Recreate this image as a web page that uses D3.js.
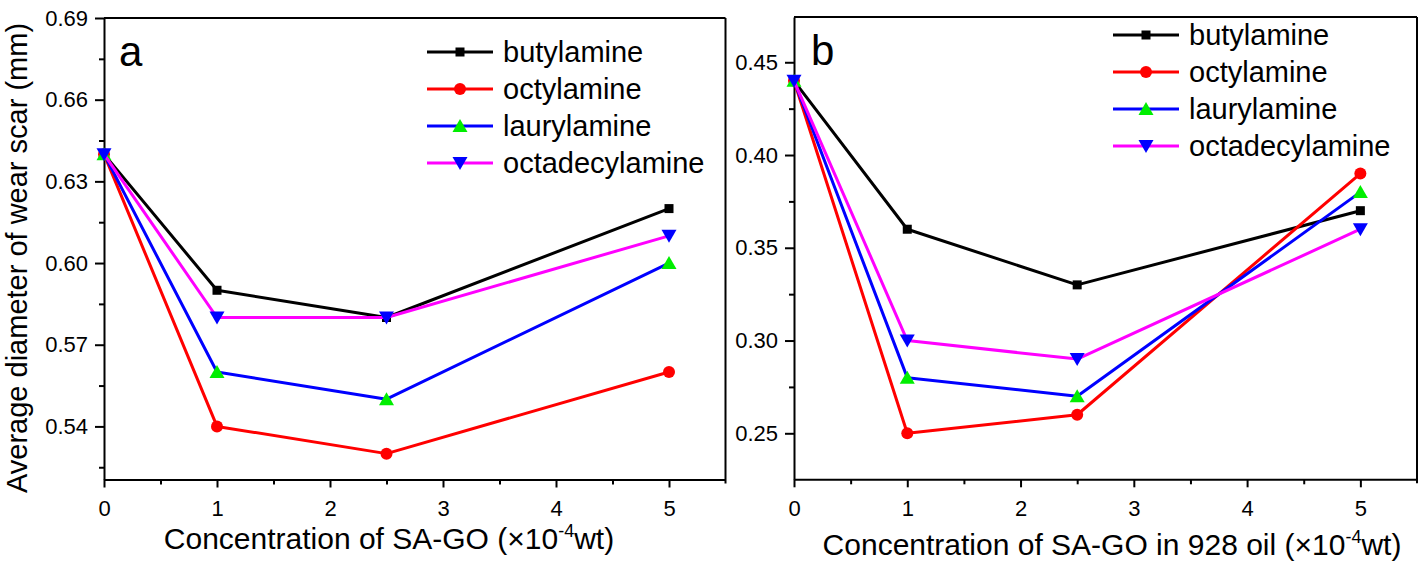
<!DOCTYPE html>
<html>
<head>
<meta charset="utf-8">
<script src="https://cdn.jsdelivr.net/npm/d3@7"></script>
<style>
  html, body { margin: 0; padding: 0; background: #fff; }
  svg { display: block; font-family: "Liberation Sans", Arial, sans-serif; }
  .tick text { font-size: 22px; fill: #000; font-family: "Liberation Sans", Arial, sans-serif; }
</style>
</head>
<body>
<svg id="chart" width="1418" height="563"></svg>
<script>
// ---- data ----
const xValues = [0, 1, 2.5, 5];
const seriesNames = ["butylamine", "octylamine", "laurylamine", "octadecylamine"];
const lineColors = ["#000000", "#ff0000", "#0000ff", "#ff00ff"];
const markerColors = ["#000000", "#ff0000", "#00ee00", "#0000ff"];
const markerShapes = ["square", "circle", "triangleUp", "triangleDown"];

// panel a: average wear scar diameter (mm)
const aButylamine = [0.64, 0.59, 0.58, 0.62];
const aOctylamine = [0.64, 0.54, 0.53, 0.56];
const aLaurylamine = [0.64, 0.56, 0.55, 0.60];
const aOctadecylamine = [0.64, 0.58, 0.58, 0.61];

// panel b: in 928 oil
const bButylamine = [0.44, 0.36, 0.33, 0.37];
const bOctylamine = [0.44, 0.25, 0.26, 0.39];
const bLaurylamine = [0.44, 0.28, 0.27, 0.38];
const bOctadecylamine = [0.44, 0.30, 0.29, 0.36];

const xTicks = [0, 1, 2, 3, 4, 5];
const xMinorTicks = [0.5, 1.5, 2.5, 3.5, 4.5];
const aYTicks = [0.54, 0.57, 0.60, 0.63, 0.66, 0.69];
const aYMinorTicks = [0.525, 0.555, 0.585, 0.615, 0.645, 0.675];
const bYTicks = [0.25, 0.30, 0.35, 0.40, 0.45];
const bYMinorTicks = [0.275, 0.325, 0.375, 0.425];

const yTitle = "Average diameter of wear scar (mm)";
const aXTitle = "Concentration of SA-GO (×10";
const bXTitle = "Concentration of SA-GO in 928 oil (×10";

// ---- drawing ----
const svg = d3.select("#chart");
const FONT_TITLE = 30, FONT_LEGEND = 29, FONT_LETTER = 42;

function marker(g, shape, color, cx, cy) {
  if (shape === "square") {
    g.append("rect").attr("x", cx - 4.5).attr("y", cy - 4.5).attr("width", 9).attr("height", 9).attr("fill", color);
  } else if (shape === "circle") {
    g.append("circle").attr("cx", cx).attr("cy", cy).attr("r", 6).attr("fill", color);
  } else if (shape === "triangleUp") {
    g.append("path").attr("d", `M${cx},${cy - 7}L${cx + 7.5},${cy + 6}L${cx - 7.5},${cy + 6}Z`).attr("fill", color);
  } else {
    g.append("path").attr("d", `M${cx},${cy + 7}L${cx + 7.5},${cy - 6}L${cx - 7.5},${cy - 6}Z`).attr("fill", color);
  }
}

function panel(opts) {
  const g = svg.append("g");
  const x = d3.scaleLinear().domain([0, 5.5]).range(opts.xRange);
  const y = d3.scaleLinear().domain(opts.yDomain).range(opts.yRange);
  const [x0, x1] = opts.xRange;
  const [yb, yt] = opts.yRange;

  // frame top & right
  g.append("line").attr("x1", x0).attr("x2", x1).attr("y1", yt).attr("y2", yt).attr("stroke", "#000").attr("stroke-width", 2);
  g.append("line").attr("x1", x1).attr("x2", x1).attr("y1", yt).attr("y2", yb + 4).attr("stroke", "#000").attr("stroke-width", 2);

  // minor ticks
  g.append("g").attr("transform", `translate(0,${yb})`)
    .call(d3.axisBottom(x).tickValues(xMinorTicks).tickSize(5).tickSizeOuter(0).tickFormat(""))
    .call(s => s.select(".domain").remove());
  g.append("g").attr("transform", `translate(${x0},0)`)
    .call(d3.axisLeft(y).tickValues(opts.yMinor).tickSize(5).tickSizeOuter(0).tickFormat(""))
    .call(s => s.select(".domain").remove());

  // major axes
  const xa = g.append("g").attr("transform", `translate(0,${yb})`)
    .call(d3.axisBottom(x).tickValues(xTicks).tickSize(8).tickPadding(13).tickSizeOuter(0).tickFormat(d3.format("d")));
  const ya = g.append("g").attr("transform", `translate(${x0},0)`)
    .call(d3.axisLeft(y).tickValues(opts.yTicks).tickSize(9).tickPadding(7).tickSizeOuter(0).tickFormat(d3.format(".2f")));
  [xa, ya].forEach(a => {
    a.attr("font-size", 22);
    a.select(".domain").attr("stroke-width", 2);
  });
  g.selectAll("line").attr("stroke-width", 2);

  // series
  const line = d3.line().x((d, i) => x(xValues[i])).y(d => y(d));
  const plot = g.append("g");
  opts.series.forEach((vals, si) => {
    plot.append("path").datum(vals).attr("d", line)
      .attr("fill", "none").attr("stroke", lineColors[si]).attr("stroke-width", 3).attr("stroke-linejoin", "round");
    vals.forEach((v, i) => marker(plot, markerShapes[si], markerColors[si], x(xValues[i]), y(v)));
  });

  // legend
  const lg = g.append("g");
  seriesNames.forEach((name, si) => {
    const ly = opts.legendY + si * 37;
    lg.append("line").attr("x1", opts.legendX).attr("x2", opts.legendX + 66).attr("y1", ly).attr("y2", ly)
      .attr("stroke", lineColors[si]).attr("stroke-width", 3);
    marker(lg, markerShapes[si], markerColors[si], opts.legendX + 33, ly);
    lg.append("text").attr("x", opts.legendX + 76).attr("y", ly).attr("dy", "0.35em")
      .attr("font-size", FONT_LEGEND).text(name);
  });

  // panel letter
  g.append("text").attr("x", opts.letterX).attr("y", opts.letterY).attr("font-size", FONT_LETTER).text(opts.letter);

  // x title
  const t = g.append("text").attr("x", opts.xTitleX).attr("y", opts.xTitleY).attr("text-anchor", "middle")
    .attr("font-size", FONT_TITLE);
  t.append("tspan").text(opts.xTitle);
  t.append("tspan").attr("font-size", 18).attr("dy", -12).text("-4");
  t.append("tspan").attr("dy", 12).text("wt)");
}

panel({
  id: "a", letter: "a",
  xRange: [104, 725.5], yDomain: [0.5205, 0.69], yRange: [479.5, 18],
  yTicks: aYTicks, yMinor: aYMinorTicks,
  series: [aButylamine, aOctylamine, aLaurylamine, aOctadecylamine],
  legendX: 427, legendY: 52,
  letterX: 119, letterY: 66,
  xTitle: aXTitle, xTitleX: 389, xTitleY: 549
});

panel({
  id: "b", letter: "b",
  xRange: [794, 1417], yDomain: [0.2252, 0.4744], yRange: [479.3, 17],
  yTicks: bYTicks, yMinor: bYMinorTicks,
  series: [bButylamine, bOctylamine, bLaurylamine, bOctadecylamine],
  legendX: 1113, legendY: 35,
  letterX: 811, letterY: 65,
  xTitle: bXTitle, xTitleX: 1112, xTitleY: 555
});

// shared y title (left panel)
svg.append("text")
  .attr("transform", "translate(27,493) rotate(-90)")
  .attr("font-size", 29)
  .text(yTitle);
</script>
</body>
</html>
